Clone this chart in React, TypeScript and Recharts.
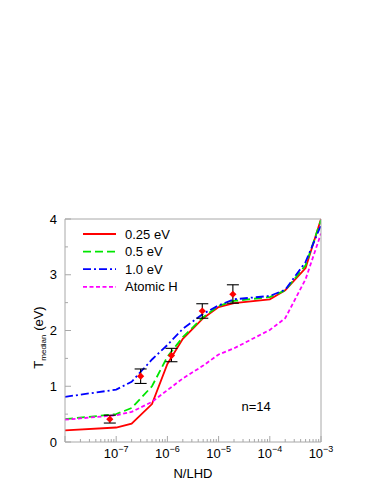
import React from "react";
import {
  ComposedChart,
  Line,
  Scatter,
  ErrorBar,
  XAxis,
  YAxis,
  ReferenceDot,
} from "recharts";

// N/LHD sample points shared by all curves
const nValues = [1e-8, 1e-7, 2e-7, 5e-7, 1e-6, 2e-6, 5e-6, 1e-5, 2e-5, 1e-4, 2e-4, 5e-4, 1e-3];
const t025 = [0.21, 0.26, 0.33, 0.68, 1.4, 1.85, 2.22, 2.42, 2.49, 2.56, 2.72, 3.12, 4.0];
const t05 = [0.41, 0.5, 0.61, 1.0, 1.53, 1.88, 2.24, 2.44, 2.53, 2.6, 2.72, 3.17, 3.98];
const t10 = [0.81, 0.94, 1.08, 1.48, 1.74, 2.03, 2.3, 2.45, 2.56, 2.62, 2.73, 3.23, 3.89];
const tAtomic = [0.4, 0.48, 0.54, 0.72, 0.93, 1.14, 1.37, 1.57, 1.68, 2.01, 2.22, 2.92, 3.74];

// measured points with error bars
const obsN = [7.5e-8, 3e-7, 1.2e-6, 4.8e-6, 1.9e-5];
const obsT = [0.41, 1.18, 1.55, 2.35, 2.65];
const obsErrLow = [0.07, 0.13, 0.11, 0.13, 0.16];
const obsErrHigh = [0.07, 0.13, 0.13, 0.13, 0.17];

const majorX = [1e-8, 1e-7, 1e-6, 1e-5, 1e-4, 1e-3];
const minorX: number[] = [];
for (let d = -8; d <= -4; d++) {
  for (let k = 2; k <= 9; k++) minorX.push(k * Math.pow(10, d));
}
const xTicks = [...majorX, ...minorX].sort((a, b) => a - b);
const yTicks = [0, 0.5, 1, 1.5, 2, 2.5, 3, 3.5, 4];

const series = [
  { key: "t025", name: "0.25 eV", values: t025, color: "#ff0000", dash: undefined },
  { key: "t05", name: "0.5 eV", values: t05, color: "#00e600", dash: "8 4" },
  { key: "t10", name: "1.0 eV", values: t10, color: "#0000ff", dash: "8 3 2 3" },
  { key: "tAtomic", name: "Atomic H", values: tAtomic, color: "#ff00ff", dash: "4 2.5" },
];

const lineData = nValues.map((n, i) => ({
  n,
  t025: t025[i],
  t05: t05[i],
  t10: t10[i],
  tAtomic: tAtomic[i],
}));

const obsData = obsN.map((n, i) => ({
  n,
  t: obsT[i],
  err: [obsErrLow[i], obsErrHigh[i]],
}));

const FONT = "Liberation Sans, Arial, Helvetica, sans-serif";
const AXIS = "#a8a8a8";

const isMajor = (v: number) => {
  const l = Math.log10(v);
  return Math.abs(l - Math.round(l)) < 1e-6;
};

const BottomTick = (props: any) => {
  const { x, y, payload } = props;
  const v = payload.value;
  const major = isMajor(v);
  const exp = Math.round(Math.log10(v));
  return (
    <g>
      <line x1={x} x2={x} y1={y} y2={y - (major ? 6 : 3)} stroke={AXIS} />
      {major && exp > -8 && (
        <text x={x} y={y + 16} textAnchor="middle" fontSize={13} fontFamily={FONT} fill="#000">
          10
          <tspan dy={-6} fontSize={9}>{"\u2212" + Math.abs(exp)}</tspan>
        </text>
      )}
    </g>
  );
};

const TopTick = (props: any) => {
  const { x, y, payload } = props;
  const major = isMajor(payload.value);
  return <line x1={x} x2={x} y1={y} y2={y + (major ? 6 : 3)} stroke={AXIS} />;
};

const LeftTick = (props: any) => {
  const { x, y, payload } = props;
  const v = payload.value;
  const major = Number.isInteger(v);
  return (
    <g>
      <line x1={x} x2={x + (major ? 6 : 3)} y1={y} y2={y} stroke={AXIS} />
      {major && (
        <text x={x - 8} y={y + 4.5} textAnchor="end" fontSize={13} fontFamily={FONT} fill="#000">
          {v}
        </text>
      )}
    </g>
  );
};

const RightTick = (props: any) => {
  const { x, y, payload } = props;
  const major = Number.isInteger(payload.value);
  return <line x1={x} x2={x - (major ? 6 : 3)} y1={y} y2={y} stroke={AXIS} />;
};

const Diamond = (props: any) => {
  const { cx, cy } = props;
  if (cx == null || cy == null) return null;
  const r = 3.6;
  return (
    <polygon
      points={`${cx},${cy - r} ${cx + r},${cy} ${cx},${cy + r} ${cx - r},${cy}`}
      fill="#ff0000"
    />
  );
};

const XTitle = (props: any) => {
  const { viewBox } = props;
  return (
    <text
      x={viewBox.x + viewBox.width / 2}
      y={viewBox.y + 36}
      textAnchor="middle"
      fontSize={13}
      fontFamily={FONT}
      fill="#000"
    >
      N/LHD
    </text>
  );
};

const YTitle = (props: any) => {
  const { viewBox } = props;
  const x = viewBox.x + 18;
  const y = viewBox.y + viewBox.height / 2 + 7;
  return (
    <text
      x={x}
      y={y}
      transform={`rotate(-90, ${x}, ${y})`}
      textAnchor="middle"
      fontSize={13}
      fontFamily={FONT}
      fill="#000"
    >
      T
      <tspan fontSize={8} dy={3}>median</tspan>
      <tspan dy={-3}> (eV)</tspan>
    </text>
  );
};

function LegendBox() {
  return (
    <svg width={160} height={80} style={{ position: "absolute", left: 80, top: 222 }}>
      {series.map((s, i) => {
        const cy = 12 + i * 17.6;
        return (
          <g key={s.key}>
            <line
              x1={3}
              x2={36}
              y1={cy}
              y2={cy}
              stroke={s.color}
              strokeWidth={1.8}
              strokeDasharray={s.dash}
            />
            <text x={45} y={cy + 4.6} fontSize={13} fontFamily={FONT} fill="#000">
              {s.name}
            </text>
          </g>
        );
      })}
    </svg>
  );
}

export default function App() {
  return (
    <div style={{ position: "absolute", left: 0, top: 0, width: 387, height: 501, background: "#fff" }}>
      <ComposedChart
        width={387}
        height={501}
        data={lineData}
        margin={{ top: 209, right: 56, bottom: 19, left: 25 }}
      >
        <XAxis
          xAxisId="b"
          dataKey="n"
          type="number"
          scale="log"
          domain={[1e-8, 1e-3]}
          allowDataOverflow
          ticks={xTicks}
          interval={0}
          height={40}
          tickSize={0}
          tickMargin={0}
          tickLine={false}
          tick={<BottomTick />}
          axisLine={{ stroke: AXIS }}
          label={<XTitle />}
        />
        <XAxis
          xAxisId="t"
          orientation="top"
          type="number"
          scale="log"
          domain={[1e-8, 1e-3]}
          allowDataOverflow
          ticks={xTicks}
          interval={0}
          height={10}
          tickSize={0}
          tickMargin={0}
          tickLine={false}
          tick={<TopTick />}
          axisLine={{ stroke: AXIS }}
        />
        <YAxis
          yAxisId="l"
          type="number"
          domain={[0, 4]}
          ticks={yTicks}
          interval={0}
          width={40}
          tickSize={0}
          tickMargin={0}
          tickLine={false}
          tick={<LeftTick />}
          axisLine={{ stroke: AXIS }}
          label={<YTitle />}
        />
        <YAxis
          yAxisId="r"
          orientation="right"
          type="number"
          domain={[0, 4]}
          ticks={yTicks}
          interval={0}
          width={10}
          tickSize={0}
          tickMargin={0}
          tickLine={false}
          tick={<RightTick />}
          axisLine={{ stroke: AXIS }}
        />
        {series.map((s) => (
          <Line
            key={s.key}
            xAxisId="b"
            yAxisId="l"
            dataKey={s.key}
            type="linear"
            stroke={s.color}
            strokeWidth={1.8}
            strokeDasharray={s.dash}
            dot={false}
            isAnimationActive={false}
          />
        ))}
        <Scatter
          xAxisId="b"
          yAxisId="l"
          data={obsData}
          dataKey="t"
          shape={<Diamond />}
          isAnimationActive={false}
        >
          <ErrorBar dataKey="err" direction="y" width={6} stroke="#000" strokeWidth={1.1} isAnimationActive={false} />
        </Scatter>
        <ReferenceDot
          xAxisId="b"
          yAxisId="l"
          x={5.4e-5}
          y={0.64}
          r={0}
          fill="none"
          stroke="none"
          label={{ value: "n=14", position: "center", fontSize: 13, fontFamily: FONT, fill: "#000" }}
        />
      </ComposedChart>
      <LegendBox />
    </div>
  );
}
